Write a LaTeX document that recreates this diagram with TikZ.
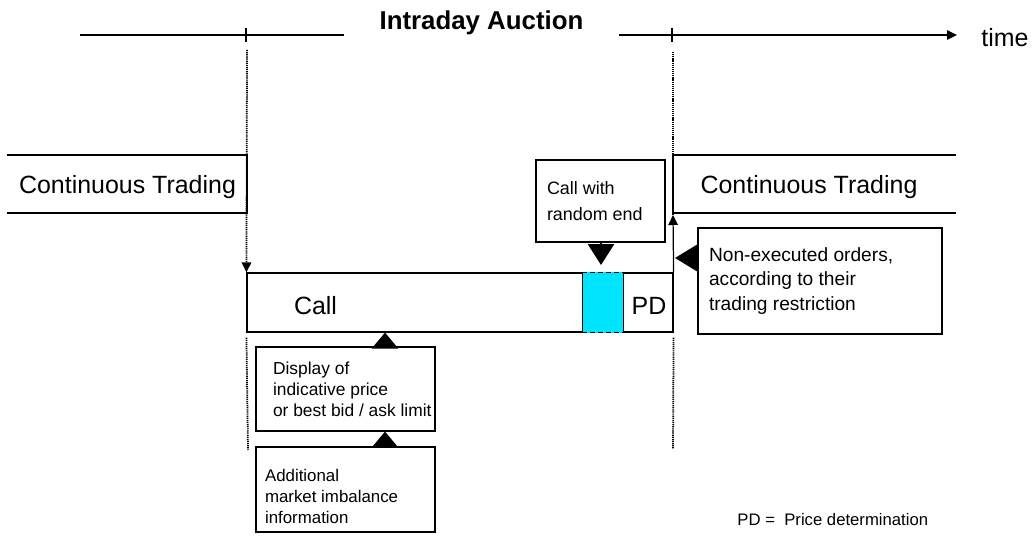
\documentclass[tikz,border=0pt]{standalone}
\usepackage{fontspec}
\setmainfont{Liberation Sans}
\usetikzlibrary{arrows.meta,positioning}
\definecolor{auctcyan}{RGB}{0,229,255}
\begin{document}
\begin{tikzpicture}[x=0.02cm,y=-0.02cm,line width=0.7pt,>={Triangle[length=2mm,width=1.9mm]},
	box/.style={draw,inner sep=0pt},
	txt/.style={inner sep=0pt,align=left},
	big/.style={font=\fontsize{14.2}{17}\selectfont},
	tri/.style={-{Triangle[length=#1,width=5.3mm]}},
	vline/.style={line width=1pt,dash pattern=on 0.7pt off 0.5pt}]
	\useasboundingbox (0,0) rectangle (1033,536);
	\coordinate (t1) at (246,35);
	\coordinate (t2) at (672,35);
	\coordinate (tend) at (957,35);
	\draw (80,35) -- (344,35);
	\draw[->] (619,35) -- (tend);
	\draw (t1) +(0,-7) -- +(0,7);
	\draw (t2) +(0,-7) -- +(0,7);
	\node[anchor=base,font=\bfseries\fontsize{14.7}{17}\selectfont] (title) at (481.5,30) {Intraday Auction};
	\node[big,anchor=base west] (time) at (975,47) {time};
	\draw (7,155) -| (247,213) -- (7,213);
	\draw (956,155) -| (673,213) -- (956,213);
	\node[big,anchor=base] (ctl) at (127.5,194) {Continuous Trading};
	\node[big,anchor=base] (ctr) at (809,194) {Continuous Trading};
	\node[box,minimum width=85.2mm,minimum height=11.8mm] (call) at (460,302.5) {};
	\node[fill=auctcyan,inner sep=0pt,minimum width=8mm,minimum height=12.2mm] (rend) at (603,302.5) {};
	\draw (rend.west |- call.north) -- (rend.west |- call.south) (rend.east |- call.north) -- (rend.east |- call.south);
	\draw[dash pattern=on 1mm off 0.6mm] (rend.west |- call.north) -- (rend.east |- call.north) (rend.west |- call.south) -- (rend.east |- call.south);
	\node[big,anchor=base] (calltxt) at (315.5,315) {Call};
	\node[big,anchor=base] (pd) at (649,315) {PD};
	\coordinate (l1) at (247,50);
	\coordinate (r1) at (673,52);
	\coordinate (cr) at (673,215);
	\coordinate (l2) at (248,450);
	\coordinate (r2) at (673,449);
	\draw[vline,->] (l1) -- (call.north west);
	\draw[vline] (r1) -- (cr);
	\draw[->] (call.north east) -- (cr);
	\draw[vline] (call.south west) ++(0,5) -- (l2);
	\draw[vline] (call.south east) ++(0,5) -- (r2);
	\node[box,minimum width=25.8mm,minimum height=16.4mm] (rnd) at (600.5,201) {};
	\node[txt,font=\fontsize{10.2}{14.7}\selectfont,right=2.2mm of rnd.west] (rndtxt) {Call with\\random end};
	\node[box,minimum width=48.8mm,minimum height=21.2mm] (nonex) at (820,281) {};
	\node[txt,font=\fontsize{10.9}{13.9}\selectfont,right=2.2mm of nonex.west] (nonextxt) {Non-executed orders,\\according to their\\trading restriction};
	\node[box,minimum width=35.8mm,minimum height=16.8mm] (disp) at (345.5,389) {};
	\node[txt,font=\fontsize{9.9}{11.9}\selectfont,right=3.4mm of disp.west] (disptxt) {Display of\\indicative price\\or best bid / ask limit};
	\node[box,minimum width=35.8mm,minimum height=17mm] (addl) at (345.5,489.5) {};
	\node[txt,font=\fontsize{9.6}{12.2}\selectfont,right=1.8mm of addl.west,yshift=-1.4mm] (addltxt) {Additional\\market imbalance\\information};
	\coordinate (dn) at (601,265);
	\coordinate (ux) at (385,0);
	\coordinate (lt) at (675,258);
	\draw[tri=4.2mm] (rnd.south -| dn) -- (dn);
	\draw[tri=3.2mm] (disp.north -| ux) -- (call.south -| ux);
	\draw[tri=3.2mm] (addl.north -| ux) -- (disp.south -| ux);
	\draw[tri=4.4mm] (nonex.west |- lt) -- (lt);
	\node[anchor=base west,font=\fontsize{9.5}{11}\selectfont] (pdnote) at (731,525) {PD =\ \ Price determination};
\end{tikzpicture}
\end{document}
